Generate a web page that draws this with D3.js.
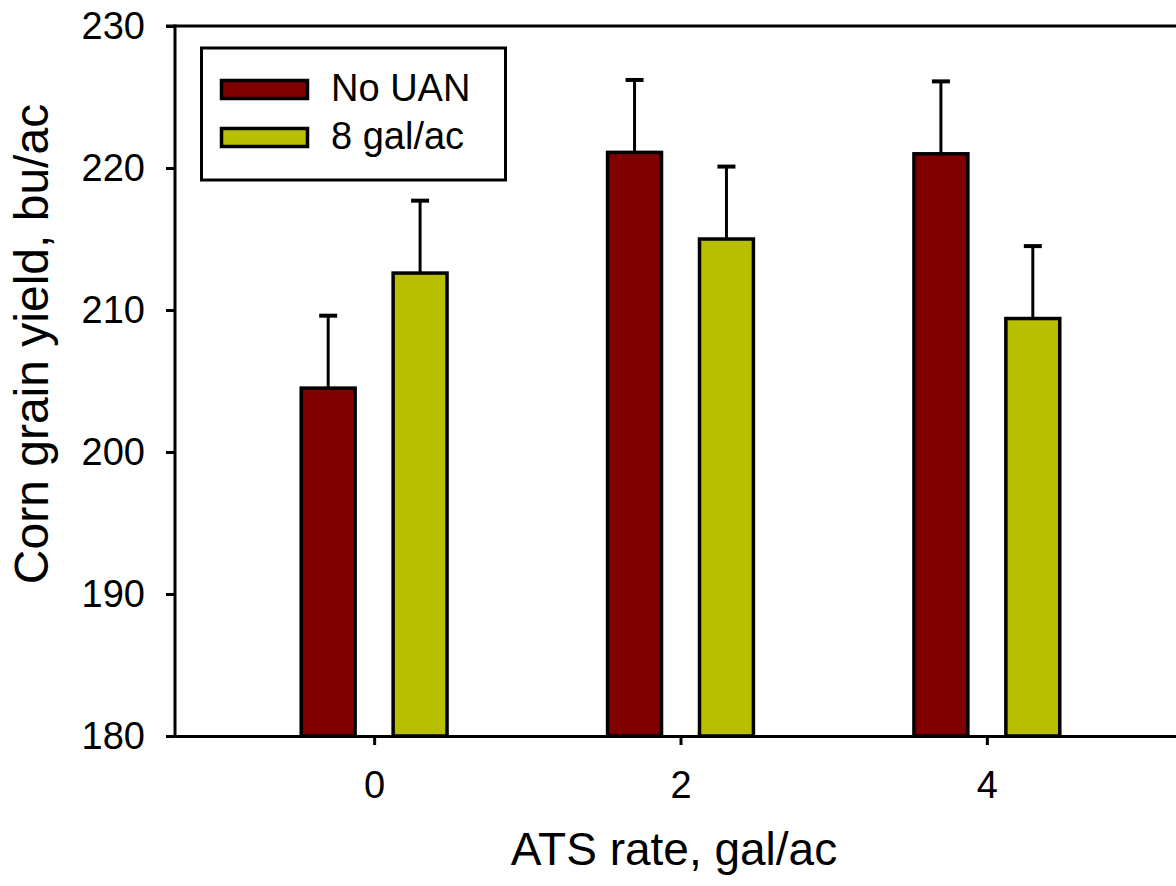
<!DOCTYPE html>
<html>
<head>
<meta charset="utf-8">
<title>Corn grain yield</title>
<script src="https://d3js.org/d3.v7.min.js"></script>
<style>
body { margin: 0; background: #fff; }
svg { display: block; font-family: "Liberation Sans", Arial, sans-serif; }
</style>
</head>
<body>
<script>
// data
let rates = [0, 2, 4];
let series = ['No UAN', '8 gal/ac'];
let colors = ['#800000', '#b7bf00'];
let noUan = [204.5, 221.1, 221.0];
let noUanErr = [5.1, 5.1, 5.1];
let gal8 = [212.6, 215.0, 209.4];
let gal8Err = [5.1, 5.1, 5.1];
let yTicks = [180, 190, 200, 210, 220, 230];

let width = 1176, height = 886;
let margin = {top: 26, left: 175, bottom: 150};

let svg = d3.select('body').append('svg').attr('width', width).attr('height', height);

let x = d3.scaleLinear().domain([-1.3, 5.3]).range([margin.left, 1186]);
let y = d3.scaleLinear().domain([180, 230]).range([height - margin.bottom, margin.top]);

let offset = 0.3, barW = 0.352;
let rows = [];
rates.forEach((r, i) => {
    rows.push({rate: r, value: noUan[i], err: noUanErr[i], s: 0});
    rows.push({rate: r, value: gal8[i], err: gal8Err[i], s: 1});
});
let cx = d => x(d.rate + (d.s ? offset : -offset));

// bars
svg.selectAll('rect.bar').data(rows).enter().append('rect')
    .attr('class', 'bar')
    .attr('x', d => x(d.rate + (d.s ? offset : -offset) - barW / 2))
    .attr('width', x(barW) - x(0))
    .attr('y', d => y(d.value))
    .attr('height', d => y(180) - y(d.value))
    .attr('fill', d => colors[d.s])
    .attr('stroke', '#000').attr('stroke-width', 3.5);

// error bars (upper only)
let eb = svg.selectAll('g.err').data(rows).enter().append('g').attr('class', 'err');
eb.append('line')
    .attr('x1', cx).attr('x2', cx)
    .attr('y1', d => y(d.value)).attr('y2', d => y(d.value + d.err))
    .attr('stroke', '#000').attr('stroke-width', 3);
eb.append('line')
    .attr('x1', d => cx(d) - 9).attr('x2', d => cx(d) + 9)
    .attr('y1', d => y(d.value + d.err)).attr('y2', d => y(d.value + d.err))
    .attr('stroke', '#000').attr('stroke-width', 4);

// axes
let yAxis = svg.append('g').attr('transform', 'translate(' + margin.left + ',0)')
    .call(d3.axisLeft(y).tickValues(yTicks).tickSize(9).tickPadding(21).tickSizeOuter(0));
let xAxis = svg.append('g').attr('transform', 'translate(0,' + (height - margin.bottom) + ')')
    .call(d3.axisBottom(x).tickValues(rates).tickFormat(d3.format('d')).tickSize(9).tickPadding(26).tickSizeOuter(0));
[yAxis, xAxis].forEach(a => {
    a.attr('font-family', '"Liberation Sans", Arial, sans-serif').attr('font-size', 38);
    a.selectAll('.tick text').attr('fill', '#000');
    a.selectAll('.domain').attr('stroke', '#000').attr('stroke-width', 3);
    a.selectAll('.tick line').attr('stroke', '#000').attr('stroke-width', 3);
});
yAxis.select('.domain').attr('d', 'M0,' + (y(230) - 1.5) + 'V' + (y(180) + 1.5));
// top frame line
svg.append('line').attr('x1', margin.left - 9).attr('x2', width).attr('y1', y(230)).attr('y2', y(230))
    .attr('stroke', '#000').attr('stroke-width', 3);

// axis titles
svg.append('text').attr('x', 674).attr('y', 865).attr('text-anchor', 'middle')
    .style('font-size', '46px').text('ATS rate, gal/ac');
svg.append('text').attr('transform', 'translate(48,344) rotate(-90)').attr('text-anchor', 'middle')
    .style('font-size', '48px').text('Corn grain yield, bu/ac');

// legend
let legend = svg.append('g');
legend.append('rect').attr('x', 201.5).attr('y', 48).attr('width', 304).attr('height', 132)
    .attr('fill', '#fff').attr('stroke', '#000').attr('stroke-width', 3);
series.forEach((s, i) => {
    legend.append('rect').attr('x', 221.5).attr('y', 80.5 + i * 48).attr('width', 86).attr('height', 18)
        .attr('fill', colors[i]).attr('stroke', '#000').attr('stroke-width', 3.5);
    legend.append('text').attr('x', 331).attr('y', 101 + i * 47.5)
        .style('font-size', '38px').text(s);
});
</script>
</body>
</html>
